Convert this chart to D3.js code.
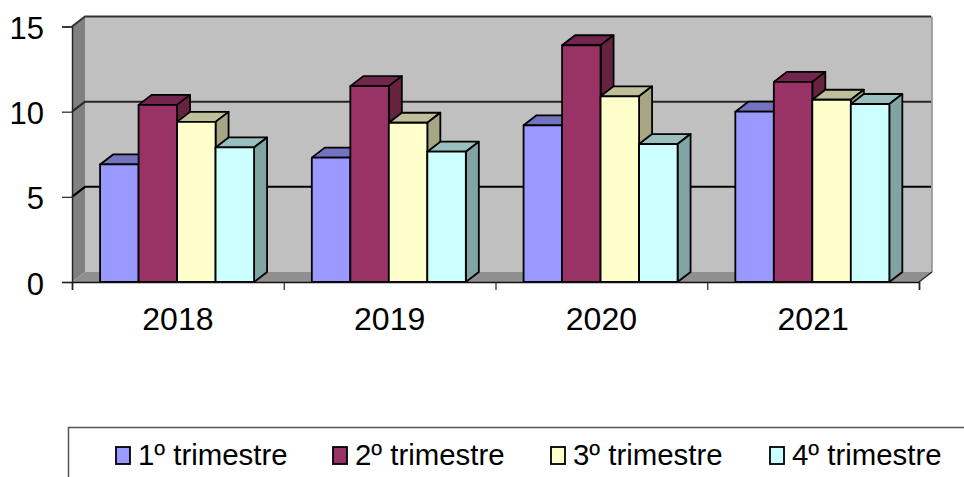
<!DOCTYPE html>
<html>
<head>
<meta charset="utf-8">
<script src="https://cdn.jsdelivr.net/npm/d3@7"></script>
<style>
html, body { margin: 0; padding: 0; background: #fff; }
svg { display: block; font-family: "Liberation Sans", Arial, sans-serif; }
</style>
</head>
<body>
<script>
var years = ["2018", "2019", "2020", "2021"];
var seriesNames = ["1º trimestre", "2º trimestre", "3º trimestre", "4º trimestre"];
var q1 = [6.9, 7.3, 9.2, 10.0];
var q2 = [10.4, 11.5, 13.9, 11.75];
var q3 = [9.4, 9.35, 10.9, 10.7];
var q4 = [7.9, 7.65, 8.1, 10.45];
var yTicks = [0, 5, 10, 15];
var frontColors = ["#9999ff", "#993366", "#ffffcc", "#ccffff"];
var topColors = ["#7373bf", "#73264d", "#bfbf99", "#99bfbf"];
var sideColors = ["#7a7acc", "#66223f", "#a6a684", "#80a4a4"];
var legendX = [116, 333, 551, 770];

var width = 964,
    height = 477,
    dx = 13,
    dy = -10;

var svg = d3.select("body").append("svg")
    .attr("width", width)
    .attr("height", height);

var x = d3.scaleBand().domain(years).range([72, 919]);
var x1 = d3.scaleBand().domain(d3.range(4)).range([-0.8, x.bandwidth() - 0.8]).paddingInner(0).paddingOuter(0.75);
var y = d3.scaleLinear().domain([0, 15]).range([282, 26.5]);

function pts(a) { return a.map(function(p) { return p.join(","); }).join(" "); }

var x0 = x.range()[0], xEnd = x.range()[1];

// walls
svg.append("polygon")
    .attr("points", pts([[x0 + dx, y(15) + dy], [xEnd + dx, y(15) + dy], [xEnd + dx, y(0) + dy], [x0 + dx, y(0) + dy]]))
    .attr("fill", "#c0c0c0");
svg.append("polygon")
    .attr("points", pts([[x0, y(0)], [x0 + dx, y(0) + dy], [x0 + dx, y(15) + dy], [x0, y(15)]]))
    .attr("fill", "#808080");
svg.append("polygon")
    .attr("points", pts([[x0, y(0)], [xEnd, y(0)], [xEnd + dx, y(0) + dy], [x0 + dx, y(0) + dy]]))
    .attr("fill", "#8f8f8f");
svg.append("line")
    .attr("x1", xEnd + dx).attr("x2", xEnd + dx)
    .attr("y1", y(15) + dy).attr("y2", y(0) + dy)
    .attr("stroke", "#8c8c8c").attr("stroke-width", 1.5);
svg.append("line")
    .attr("x1", xEnd).attr("x2", xEnd + dx)
    .attr("y1", y(0)).attr("y2", y(0) + dy)
    .attr("stroke", "#222").attr("stroke-width", 1.2);

// gridlines
var gridColor = { 5: "#000", 10: "#262626", 15: "#333" };
yTicks.filter(function(d) { return d > 0; }).forEach(function(d) {
  svg.append("polyline")
      .attr("points", pts([[x0, y(d)], [x0 + dx, y(d) + dy], [xEnd + dx - 1, y(d) + dy]]))
      .attr("fill", "none")
      .attr("stroke", gridColor[d])
      .attr("stroke-width", 2);
});

// bars, drawn left to right so each front covers the previous side
var values = [q1, q2, q3, q4];
years.forEach(function(yr, i) {
  values.forEach(function(vals, s) {
    var left = x(yr) + x1(s),
        right = left + x1.bandwidth(),
        top = y(vals[i]),
        base = y(0);
    var g = svg.append("g")
        .attr("stroke", "#000")
        .attr("stroke-width", 1.8)
        .attr("stroke-linejoin", "round");
    g.append("polygon")
        .attr("points", pts([[left, top], [left + dx, top + dy], [right + dx, top + dy], [right, top]]))
        .attr("fill", topColors[s]);
    g.append("polygon")
        .attr("points", pts([[right, top], [right + dx, top + dy], [right + dx, base + dy], [right, base]]))
        .attr("fill", sideColors[s]);
    g.append("rect")
        .attr("x", left).attr("y", top)
        .attr("width", right - left).attr("height", base - top)
        .attr("fill", frontColors[s]);
  });
});

// left edge of the wall and the axes
var yAxis = d3.axisLeft(y).tickValues(yTicks).tickSize(10).tickPadding(18);
var gy = svg.append("g")
    .attr("transform", "translate(" + x0 + ",0)")
    .call(yAxis);
gy.select(".domain").attr("stroke", "#222").attr("stroke-width", 1.4);
gy.selectAll("line").attr("stroke", "#222").attr("stroke-width", 1.2);
gy.selectAll("text")
    .attr("font-family", "Liberation Sans")
    .attr("font-size", 31)
    .attr("dy", "0.39em")
    .attr("fill", "#000");

var xTicks = d3.scaleLinear().domain([0, 4]).range([x0, xEnd]);
var xAxis = d3.axisBottom(xTicks).tickValues(d3.range(5)).tickSize(8).tickFormat("");
var gx = svg.append("g")
    .attr("transform", "translate(0," + y(0) + ")")
    .call(xAxis);
gx.select(".domain").attr("stroke", "#111").attr("stroke-width", 1.6);
gx.selectAll("line").attr("stroke", "#222").attr("stroke-width", 1.2);

svg.append("g").selectAll("text")
    .data(years)
  .enter().append("text")
    .attr("x", function(d) { return x(d) + x.bandwidth() / 2; })
    .attr("y", 330)
    .attr("text-anchor", "middle")
    .attr("font-size", 32)
    .attr("fill", "#000")
    .text(function(d) { return d; });

// legend
svg.append("path")
    .attr("d", "M965,427.5H68.5V478")
    .attr("fill", "none")
    .attr("stroke", "#555")
    .attr("stroke-width", 1.5);

var leg = svg.append("g").selectAll("g")
    .data(seriesNames)
  .enter().append("g")
    .attr("transform", function(d, i) { return "translate(" + legendX[i] + ",447)"; });

leg.append("rect")
    .attr("width", 14).attr("height", 17)
    .attr("fill", function(d, i) { return frontColors[i]; })
    .attr("stroke", "#000")
    .attr("stroke-width", 1.8);

leg.append("text")
    .attr("x", 22)
    .attr("y", 18)
    .attr("font-size", 29.4)
    .attr("fill", "#000")
    .text(function(d) { return d; });
</script>
</body>
</html>
